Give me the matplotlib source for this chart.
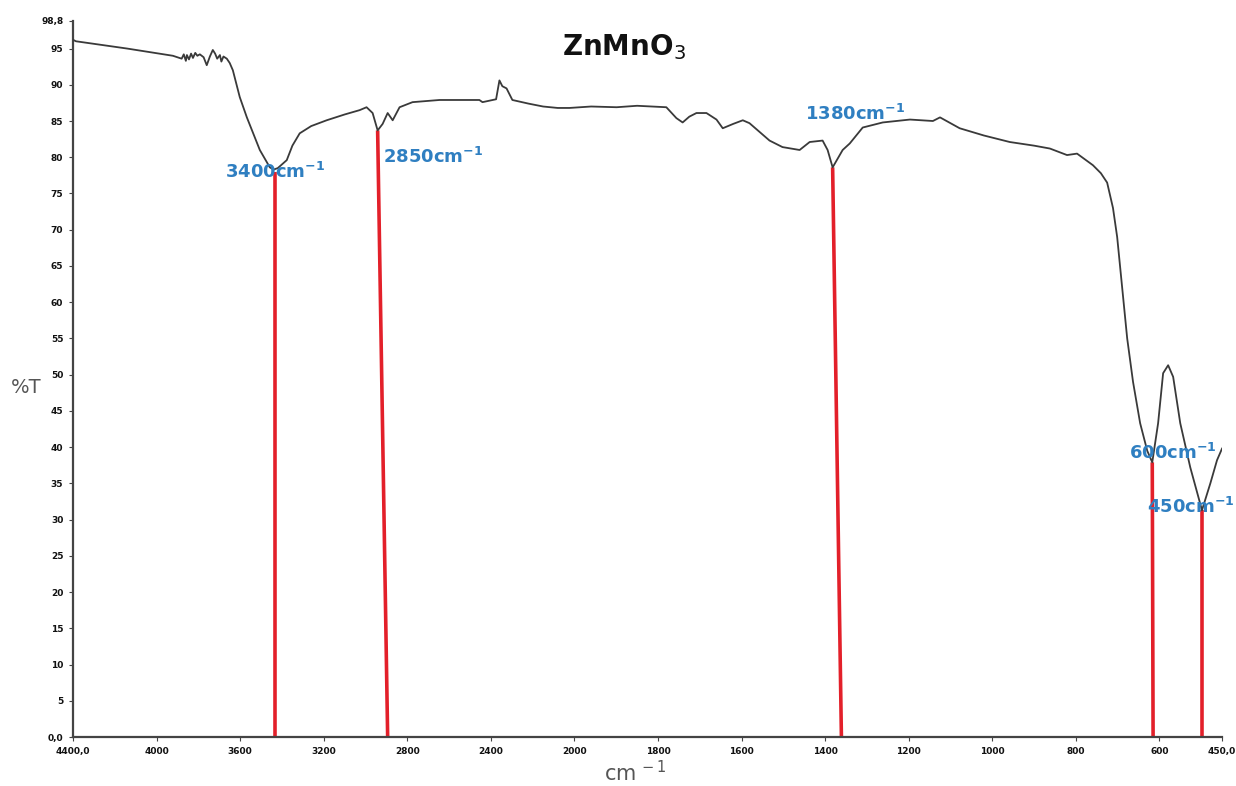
import numpy as np
import matplotlib
matplotlib.use("Agg")
import matplotlib.pyplot as plt

# FTIR spectrum of ZnMnO3 (wavenumber cm-1, %T)
wavenumber = [
    4400, 4386, 4142, 3922, 3880, 3870, 3860, 3855, 3845, 3835, 3826, 3815,
    3805, 3793, 3775, 3760, 3745, 3731, 3720, 3710, 3697, 3690, 3680, 3664,
    3650, 3635, 3602, 3568, 3506, 3458, 3440, 3420, 3377, 3350, 3315, 3260,
    3186, 3100, 3028, 2995, 2966, 2942, 2918, 2894, 2870, 2837, 2775, 2646,
    2455, 2440, 2375, 2359, 2345, 2325, 2297, 2220, 2150, 2080, 2024, 1960,
    1899, 1850, 1780, 1756, 1741, 1725, 1708, 1684, 1660, 1645, 1620, 1597,
    1581, 1533, 1502, 1461, 1437, 1406, 1394, 1382, 1358, 1341, 1310, 1262,
    1197, 1142, 1125, 1078, 1020, 958, 900, 862, 821, 797, 759, 740,
    725, 711, 701, 689, 677, 663, 646, 629, 617, 603, 591, 579,
    567, 550, 526, 498, 478, 462, 450,
]
transmittance = [
    96.2, 96.0, 95.0, 94.0, 93.6, 94.2, 93.3, 94.1, 93.5, 94.3, 93.7, 94.4,
    94.0, 94.2, 93.8, 92.7, 93.9, 94.8, 94.3, 93.6, 94.1, 93.2, 93.9, 93.6,
    93.0, 92.0, 88.3, 85.5, 81.0, 78.6, 78.3, 78.5, 79.6, 81.6, 83.3, 84.3,
    85.1, 85.9, 86.5, 86.9, 86.1, 83.7, 84.6, 86.1, 85.1, 86.9, 87.6, 87.9,
    87.9, 87.6, 88.0, 90.6, 89.8, 89.5, 87.9, 87.4, 87.0, 86.8, 86.8, 87.0,
    86.9, 87.1, 86.9, 85.4, 84.8, 85.6, 86.1, 86.1, 85.2, 84.0, 84.6, 85.1,
    84.7, 82.3, 81.4, 81.0, 82.1, 82.3, 81.0, 78.6, 81.0, 81.9, 84.1, 84.8,
    85.2, 85.0, 85.5, 84.0, 83.0, 82.1, 81.6, 81.2, 80.3, 80.5, 78.9, 77.8,
    76.5, 73.0, 69.0, 62.0, 55.0, 49.0, 43.3, 39.5, 37.9, 43.3, 50.2, 51.3,
    49.7, 43.3, 37.2, 31.3, 35.0, 38.2, 39.8,
]

# marked bands: label, line top (wn, %T), line foot wn, label anchor
peak_labels = ["3400", "2850", "1380", "600", "450"]
peak_top_wn = [3434, 2942, 1382, 617, 498]
peak_top_t = [78.0, 83.7, 78.6, 37.9, 31.3]
peak_foot_wn = [3434, 2894, 1361, 615, 498]
label_wn = [3434, 2918, 1447, 673, 591]
label_t = [78.0, 80.0, 86.0, 39.2, 31.7]
label_ha = ["center", "left", "left", "left", "left"]

x_ticks = [4400, 4000, 3600, 3200, 2800, 2400, 2000, 1800, 1600, 1400,
           1200, 1000, 800, 600, 450]
x_tick_labels = ["4400,0", "4000", "3600", "3200", "2800", "2400", "2000",
                 "1800", "1600", "1400", "1200", "1000", "800", "600", "450,0"]
y_ticks = [0, 5, 10, 15, 20, 25, 30, 35, 40, 45, 50, 55, 60, 65, 70, 75, 80,
           85, 90, 95, 98.8]
y_tick_labels = ["0,0"] + [str(v) for v in y_ticks[1:-1]] + ["98,8"]


# x axis is stretched x2 below 2000 cm-1, as on the instrument printout
def _fwd(x):
    x = np.asarray(x, dtype=float)
    return np.where(x >= 2000, x, 2 * x - 2000)


def _inv(y):
    y = np.asarray(y, dtype=float)
    return np.where(y >= 2000, y, (y + 2000) / 2)


fig = plt.figure(figsize=(12.36, 7.86), dpi=100)
ax = fig.add_axes([0.0591, 0.0623, 0.9296, 0.911])
ax.set_xscale("function", functions=(_fwd, _inv))
ax.set_xlim(4400, 450)
ax.set_ylim(0, 98.8)

ax.plot(wavenumber, transmittance, color="#3a3a3a", lw=1.3, zorder=3)

blue = "#2f7fc1"
for name, tw, tt, fw, lw_, lt, ha in zip(peak_labels, peak_top_wn, peak_top_t,
                                          peak_foot_wn, label_wn, label_t, label_ha):
    ax.plot([tw, fw], [tt, 0], color="#e3202a", lw=2.6, zorder=2,
            solid_capstyle="butt", clip_on=False)
    txt = name + r"cm$^{\mathbf{-1}}$"
    if name == "450":
        # the last label runs into the right edge: right-align it at the edge,
        # y stays in data units through a blended transform
        trans = matplotlib.transforms.blended_transform_factory(
            fig.transFigure, ax.transData)
        ax.text(0.999, lt, txt, color=blue, fontsize=13, fontweight="bold",
                ha="right", va="center", zorder=4, transform=trans,
                clip_on=False)
        continue
    ax.text(lw_, lt, txt, color=blue, fontsize=13,
            fontweight="bold", ha=ha, va="center", zorder=4, clip_on=False)

ax.set_xticks(x_ticks)
ax.set_xticklabels(x_tick_labels)
ax.set_yticks(y_ticks)
ax.set_yticklabels(y_tick_labels)
ax.minorticks_off()
ax.tick_params(axis="both", labelsize=6.5, length=3, width=0.8, colors="#444444",
               labelcolor="#111111", pad=4)
for lab in ax.get_xticklabels() + ax.get_yticklabels():
    lab.set_fontweight("bold")

for side in ("top", "right"):
    ax.spines[side].set_visible(False)
for side in ("left", "bottom"):
    ax.spines[side].set_color("#444444")
    ax.spines[side].set_linewidth(1.6)

fig.text(0.505, 0.94, r"ZnMnO$_{3}$", fontsize=20, fontweight="bold",
         ha="center", va="center", color="#111111")
fig.text(0.009, 0.507, "%T", fontsize=14, color="#555555", ha="left", va="center")
fig.text(0.514, 0.017, r"cm$^{\,-1}$", fontsize=15, color="#555555",
         ha="center", va="center")

fig.savefig("out.png", dpi=100)
